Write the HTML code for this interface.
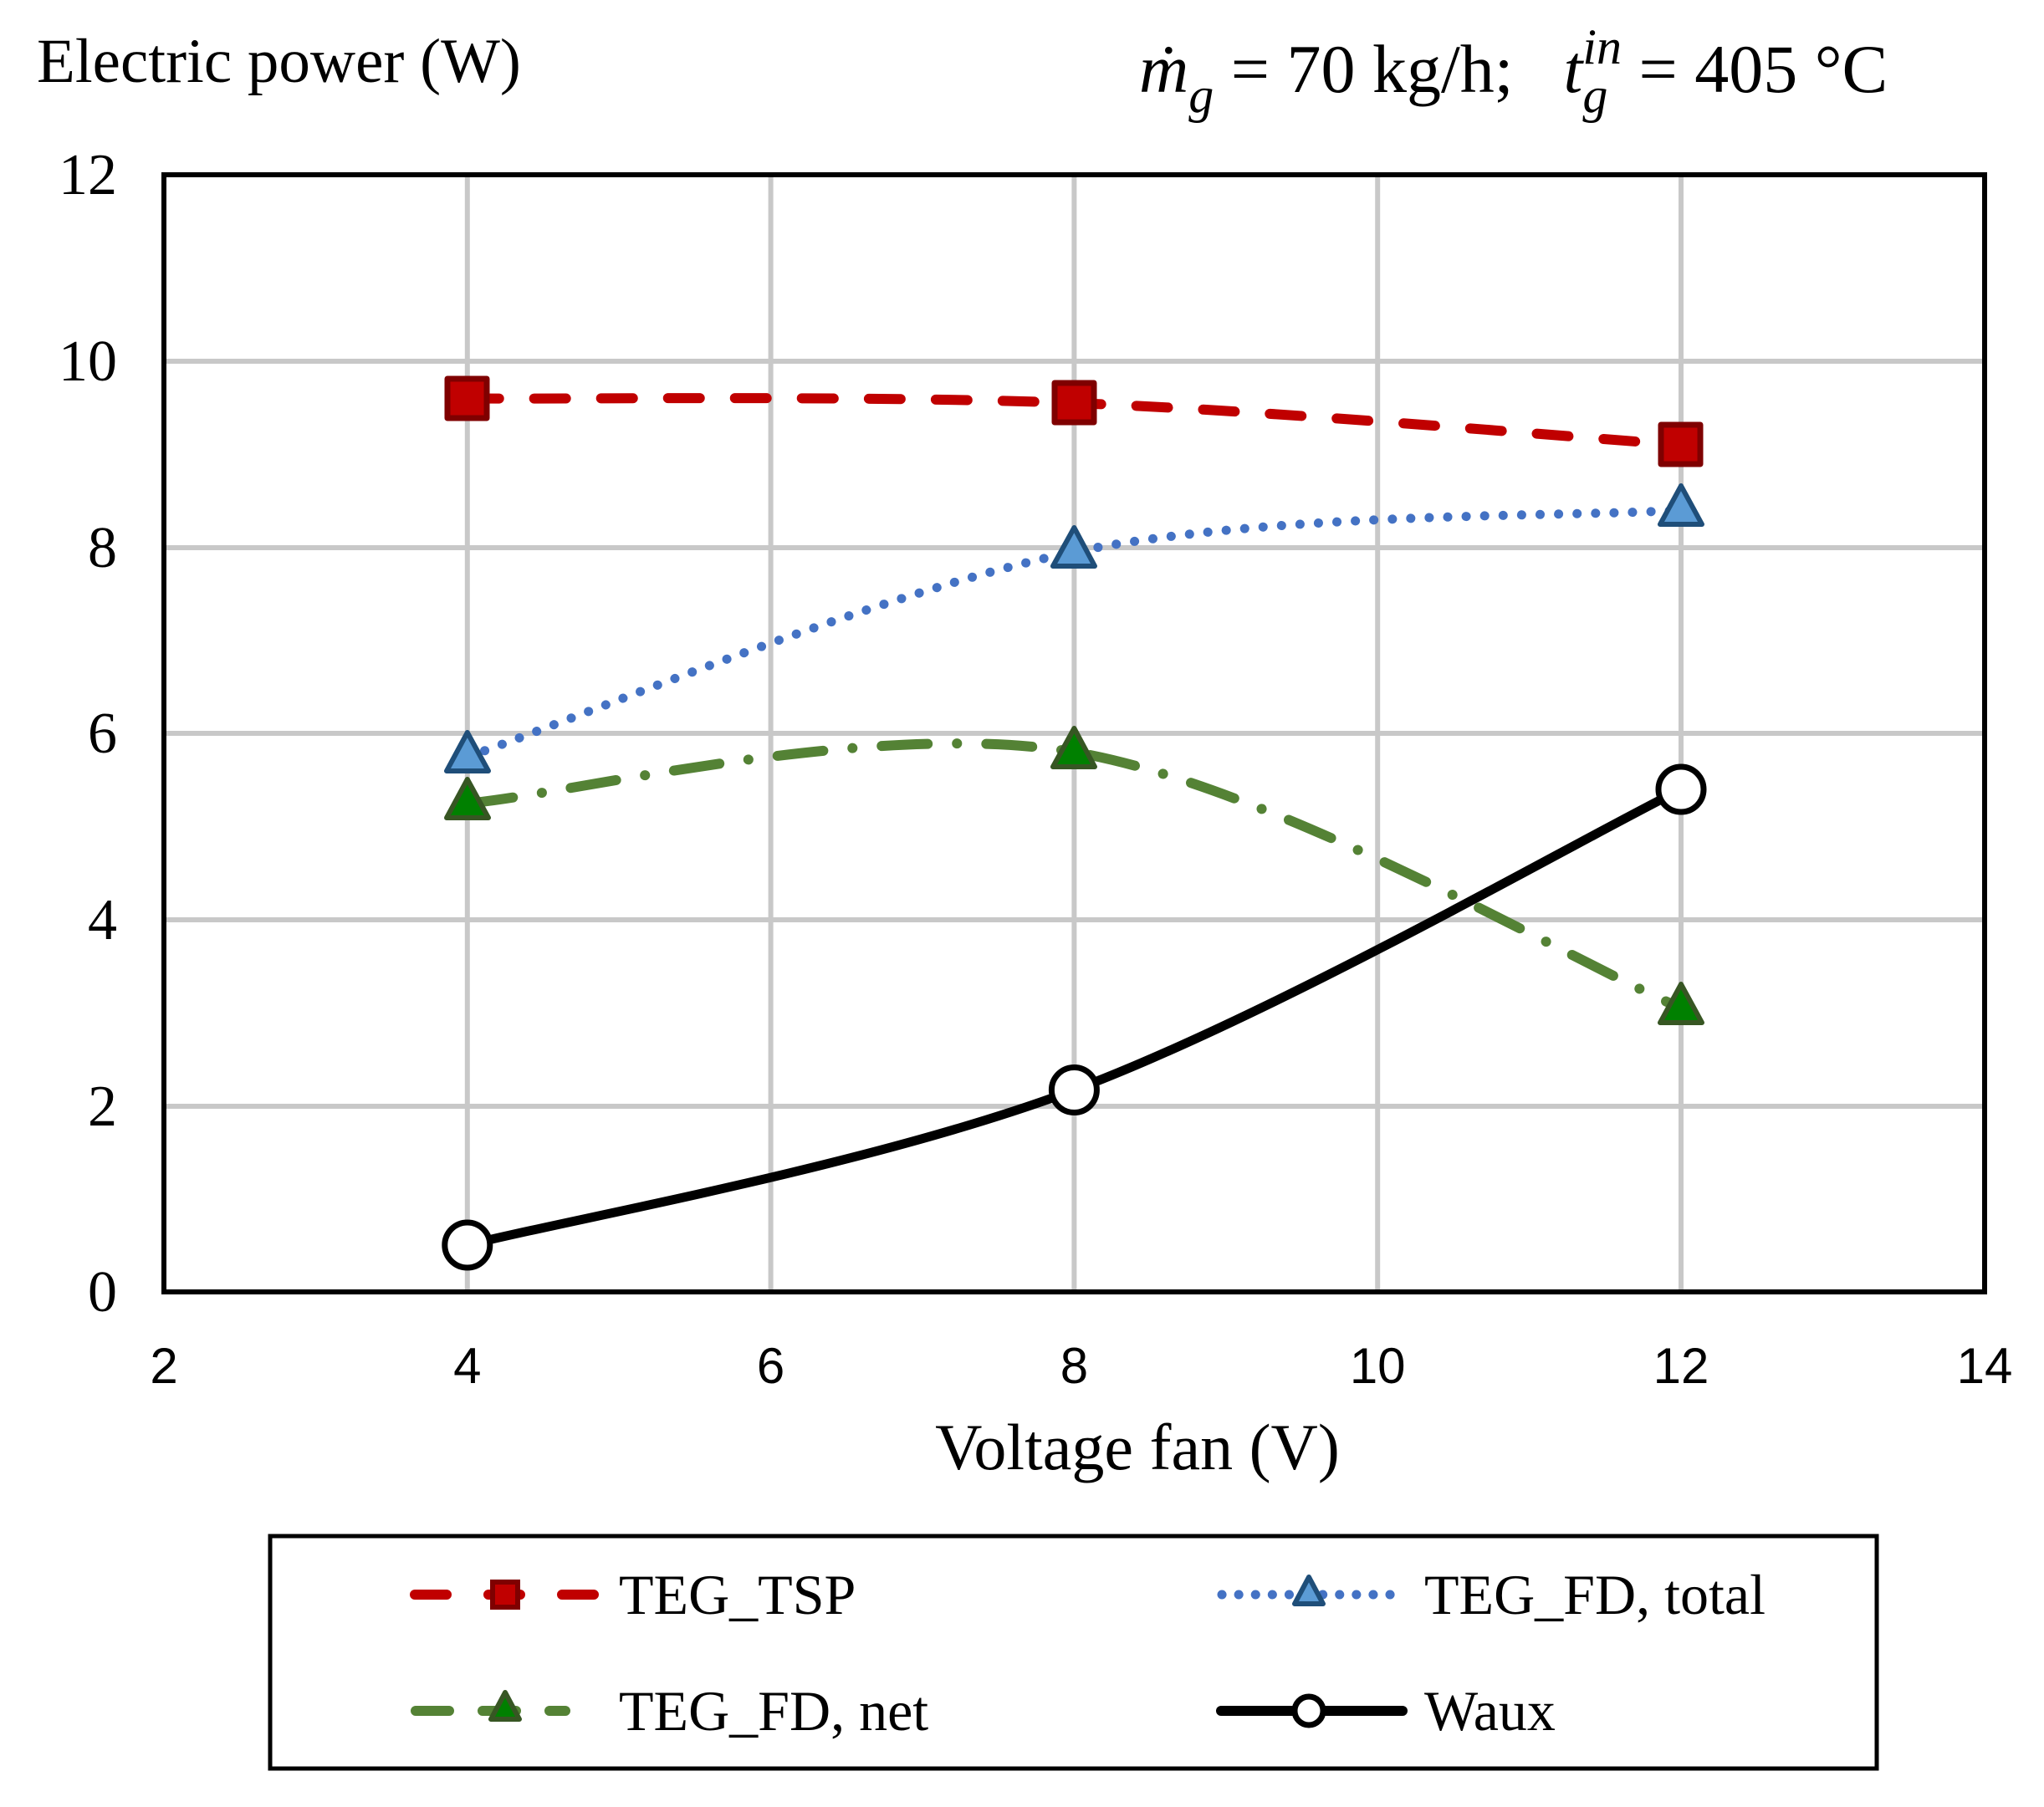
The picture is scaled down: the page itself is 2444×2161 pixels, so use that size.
<!DOCTYPE html>
<html><head><meta charset="utf-8"><style>
html,body{margin:0;padding:0;background:#fff;}
svg{display:block;}
</style></head><body>
<svg width="2444" height="2161" viewBox="0 0 2444 2161" xmlns="http://www.w3.org/2000/svg">
<rect width="2444" height="2161" fill="#fff"/>
<g stroke="#c8c8c8" stroke-width="6">
<line x1="558.8" y1="209" x2="558.8" y2="1545"/>
<line x1="921.6" y1="209" x2="921.6" y2="1545"/>
<line x1="1284.4" y1="209" x2="1284.4" y2="1545"/>
<line x1="1647.2" y1="209" x2="1647.2" y2="1545"/>
<line x1="2010" y1="209" x2="2010" y2="1545"/>
<line x1="196" y1="432" x2="2373" y2="432"/>
<line x1="196" y1="655" x2="2373" y2="655"/>
<line x1="196" y1="877" x2="2373" y2="877"/>
<line x1="196" y1="1100" x2="2373" y2="1100"/>
<line x1="196" y1="1323" x2="2373" y2="1323"/>
</g>
<rect x="196" y="209" width="2177" height="1336" fill="none" stroke="#000" stroke-width="6"/>
<g font-family="Liberation Serif, serif" font-size="70" text-anchor="end">
<text x="140" y="232">12</text><text x="140" y="455">10</text><text x="140" y="678">8</text>
<text x="140" y="900">6</text><text x="140" y="1123">4</text><text x="140" y="1346">2</text><text x="140" y="1568">0</text>
</g>
<g font-family="Liberation Sans, sans-serif" font-size="60" text-anchor="middle">
<text x="196" y="1654">2</text><text x="558.8" y="1654">4</text><text x="921.6" y="1654">6</text>
<text x="1284.4" y="1654">8</text><text x="1647.2" y="1654">10</text><text x="2010" y="1654">12</text><text x="2373" y="1654">14</text>
</g>
<text x="1360" y="1757" font-family="Liberation Serif, serif" font-size="78" text-anchor="middle">Voltage fan (V)</text>
<text x="44" y="98" font-family="Liberation Serif, serif" font-size="75">Electric power (W)</text>
<text x="1362" y="110" font-family="Liberation Serif, serif" font-size="82"><tspan font-style="italic">ṁ</tspan><tspan font-style="italic" font-size="60" dy="24">g</tspan><tspan dy="-24"> = 70 kg/h;</tspan><tspan font-style="italic" dx="60">t</tspan><tspan font-style="italic" font-size="60" dy="24">g</tspan><tspan font-style="italic" font-size="60" dx="-30" dy="-58">in</tspan><tspan dy="34"> = 405 °C</tspan></text>

<path d="M558.8,476.5 C679.7,477.4 1042.5,472.75 1284.4,482 C1526.3,491.25 1889.1,523.7 2010,532" fill="none" stroke="#c00000" stroke-width="12" stroke-linecap="round" stroke-dasharray="38 42"/>
<path d="M558.8,905 C679.7,864.2 1042.5,709.2 1284.4,660 C1526.3,610.8 1889.1,618.3 2010,610" fill="none" stroke="#4472c4" stroke-width="11" stroke-linecap="round" stroke-dasharray="0.1 22"/>
<path d="M558.8,960.7 C679.7,950.5 1042.5,858.7 1284.4,899.5 C1526.3,940.3 1889.1,1154.5 2010,1205.5" fill="none" stroke="#548235" stroke-width="12" stroke-linecap="round" stroke-dasharray="55 35 0.1 35"/>
<path d="M558.8,1489 C679.7,1458.1 1042.5,1394.3 1284.4,1303.5 C1526.3,1212.7 1889.1,1003.9 2010,944" fill="none" stroke="#000" stroke-width="11"/>

<g fill="#c00000" stroke="#7f0000" stroke-width="7" stroke-linejoin="round">
<rect x="535" y="453" width="47" height="47"/><rect x="1261" y="458" width="47" height="47"/><rect x="1986" y="508" width="47" height="47"/>
</g>
<g fill="#5b9bd5" stroke="#1f4e79" stroke-width="6" stroke-linejoin="round">
<polygon points="558.8,876 534,922 584,922"/><polygon points="1284.4,631 1259,677 1309,677"/><polygon points="2010,581 1985,627 2035,627"/>
</g>
<g fill="#008000" stroke="#375623" stroke-width="6" stroke-linejoin="round">
<polygon points="558.8,932 534,978 584,978"/><polygon points="1284.4,871 1259,917 1309,917"/><polygon points="2010,1177 1985,1223 2035,1223"/>
</g>
<g fill="#fff" stroke="#000" stroke-width="7">
<circle cx="558.8" cy="1489" r="27"/><circle cx="1284.4" cy="1303.5" r="27"/><circle cx="2010" cy="944" r="27"/>
</g>

<rect x="323" y="1837" width="1921" height="278" fill="#fff" stroke="#000" stroke-width="5"/>
<line x1="496" y1="1907" x2="714" y2="1907" stroke="#c00000" stroke-width="12" stroke-linecap="round" stroke-dasharray="38 50"/>
<rect x="589" y="1892" width="30" height="30" fill="#c00000" stroke="#7f0000" stroke-width="6"/>
<line x1="1461" y1="1907" x2="1666" y2="1907" stroke="#4472c4" stroke-width="11" stroke-linecap="round" stroke-dasharray="0.1 20"/>
<polygon points="1565,1886 1548,1918 1582,1918" fill="#5b9bd5" stroke="#1f4e79" stroke-width="6" stroke-linejoin="round"/>
<line x1="497" y1="2046" x2="676" y2="2046" stroke="#548235" stroke-width="12" stroke-linecap="round" stroke-dasharray="40 40"/>
<polygon points="604,2024 587,2056 621,2056" fill="#008000" stroke="#375623" stroke-width="6" stroke-linejoin="round"/>
<line x1="1460" y1="2046" x2="1677" y2="2046" stroke="#000" stroke-width="12" stroke-linecap="round"/>
<circle cx="1565" cy="2046" r="17" fill="#fff" stroke="#000" stroke-width="7"/>
<g font-family="Liberation Serif, serif" font-size="68">
<text x="740" y="1930">TEG_TSP</text><text x="1703" y="1930">TEG_FD, total</text>
<text x="740" y="2069">TEG_FD, net</text><text x="1703" y="2069">Waux</text>
</g>
</svg>
</body></html>
